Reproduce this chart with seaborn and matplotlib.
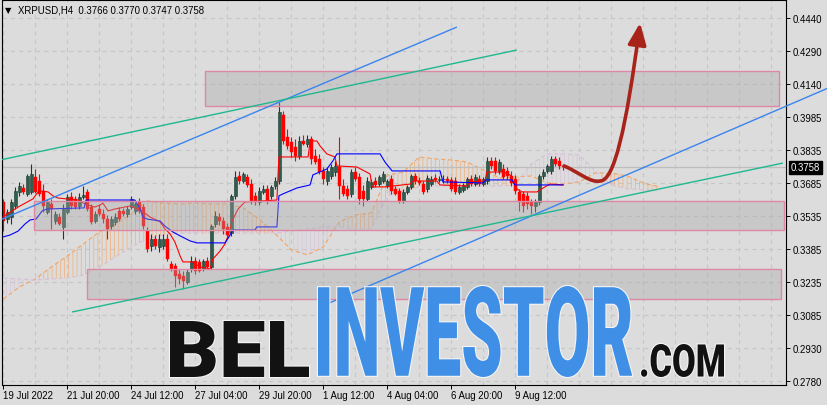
import numpy as np
import pandas as pd
import matplotlib
matplotlib.use("Agg")
import matplotlib.pyplot as plt
import seaborn as sns
from matplotlib.patches import Rectangle, FancyArrowPatch, PathPatch, ArrowStyle
from matplotlib.path import Path
from matplotlib.textpath import TextPath
from matplotlib.font_manager import FontProperties, fontManager
from matplotlib.transforms import Affine2D
import matplotlib.patheffects as pe
from matplotlib.colors import to_rgba

# ---------------- data (XRPUSD H4) ----------------
opens = [0.3600, 0.3522, 0.3531, 0.3582, 0.3646, 0.3664, 0.3637, 0.3646, 0.3714, 0.3696,
         0.3650, 0.3554, 0.3591, 0.3513, 0.3531, 0.3486, 0.3554, 0.3623, 0.3614, 0.3582,
         0.3623, 0.3646, 0.3577, 0.3513, 0.3568, 0.3545, 0.3522, 0.3490, 0.3509, 0.3559,
         0.3559, 0.3545, 0.3577, 0.3559, 0.3600, 0.3577, 0.3467, 0.3399, 0.3431, 0.3394,
         0.3399, 0.3431, 0.3316, 0.3307, 0.3271, 0.3262, 0.3234, 0.3294, 0.3330, 0.3326,
         0.3294, 0.3330, 0.3303, 0.3499, 0.3531, 0.3513, 0.3486, 0.3458, 0.3628, 0.3719,
         0.3696, 0.3714, 0.3682, 0.3628, 0.3600, 0.3646, 0.3660, 0.3628, 0.3673, 0.3696,
         0.3998, 0.3897, 0.3874, 0.3851, 0.3810, 0.3879, 0.3865, 0.3888, 0.3810, 0.3797,
         0.3742, 0.3696, 0.3719, 0.3737, 0.3760, 0.3673, 0.3660, 0.3637, 0.3737, 0.3714,
         0.3650, 0.3614, 0.3669, 0.3696, 0.3682, 0.3696, 0.3673, 0.3705, 0.3660, 0.3650,
         0.3605, 0.3646, 0.3669, 0.3719, 0.3696, 0.3682, 0.3660, 0.3682, 0.3710, 0.3701,
         0.3705, 0.3705, 0.3701, 0.3696, 0.3646, 0.3655, 0.3669, 0.3705, 0.3682, 0.3705,
         0.3682, 0.3696, 0.3788, 0.3788, 0.3742, 0.3751, 0.3742, 0.3719, 0.3705, 0.3646,
         0.3637, 0.3628, 0.3600, 0.3582, 0.3600, 0.3719, 0.3742, 0.3742, 0.3797, 0.3788,
         0.3766]
highs = [0.3614, 0.3568, 0.3614, 0.3669, 0.3692, 0.3682, 0.3728, 0.3774, 0.3751, 0.3728,
         0.3682, 0.3614, 0.3614, 0.3559, 0.3550, 0.3591, 0.3637, 0.3646, 0.3628, 0.3641,
         0.3673, 0.3660, 0.3591, 0.3559, 0.3591, 0.3568, 0.3541, 0.3536, 0.3550, 0.3577,
         0.3573, 0.3582, 0.3628, 0.3600, 0.3618, 0.3591, 0.3486, 0.3454, 0.3449, 0.3454,
         0.3454, 0.3454, 0.3330, 0.3321, 0.3294, 0.3285, 0.3294, 0.3353, 0.3349, 0.3339,
         0.3339, 0.3349, 0.3499, 0.3559, 0.3550, 0.3531, 0.3504, 0.3637, 0.3742, 0.3742,
         0.3737, 0.3728, 0.3705, 0.3646, 0.3669, 0.3678, 0.3678, 0.3678, 0.3714, 0.4057,
         0.4016, 0.3934, 0.3897, 0.3888, 0.3902, 0.3906, 0.3906, 0.3902, 0.3842, 0.3819,
         0.3760, 0.3760, 0.3774, 0.3788, 0.3897, 0.3705, 0.3678, 0.3751, 0.3760, 0.3733,
         0.3678, 0.3714, 0.3705, 0.3714, 0.3723, 0.3742, 0.3705, 0.3723, 0.3673, 0.3664,
         0.3660, 0.3678, 0.3728, 0.3733, 0.3714, 0.3696, 0.3723, 0.3719, 0.3728, 0.3719,
         0.3723, 0.3719, 0.3714, 0.3714, 0.3682, 0.3687, 0.3714, 0.3723, 0.3728, 0.3723,
         0.3714, 0.3806, 0.3806, 0.3806, 0.3797, 0.3774, 0.3760, 0.3742, 0.3723, 0.3660,
         0.3650, 0.3646, 0.3614, 0.3614, 0.3728, 0.3751, 0.3774, 0.3810, 0.3810, 0.3806,
         0.3770]
lows = [0.3467, 0.3504, 0.3499, 0.3568, 0.3628, 0.3637, 0.3628, 0.3637, 0.3641, 0.3628,
        0.3554, 0.3545, 0.3477, 0.3499, 0.3495, 0.3431, 0.3545, 0.3568, 0.3568, 0.3568,
        0.3614, 0.3559, 0.3499, 0.3504, 0.3536, 0.3504, 0.3431, 0.3477, 0.3495, 0.3513,
        0.3536, 0.3531, 0.3568, 0.3545, 0.3550, 0.3477, 0.3371, 0.3376, 0.3385, 0.3371,
        0.3385, 0.3330, 0.3285, 0.3211, 0.3225, 0.3202, 0.3225, 0.3280, 0.3271, 0.3280,
        0.3285, 0.3294, 0.3294, 0.3486, 0.3495, 0.3454, 0.3431, 0.3444, 0.3614, 0.3682,
        0.3687, 0.3669, 0.3591, 0.3586, 0.3586, 0.3637, 0.3591, 0.3614, 0.3660, 0.3682,
        0.3865, 0.3842, 0.3806, 0.3787, 0.3797, 0.3861, 0.3851, 0.3774, 0.3774, 0.3728,
        0.3682, 0.3678, 0.3705, 0.3719, 0.3614, 0.3628, 0.3614, 0.3623, 0.3696, 0.3591,
        0.3582, 0.3605, 0.3660, 0.3669, 0.3673, 0.3687, 0.3664, 0.3637, 0.3632, 0.3595,
        0.3595, 0.3637, 0.3660, 0.3682, 0.3678, 0.3637, 0.3646, 0.3673, 0.3692, 0.3692,
        0.3687, 0.3687, 0.3650, 0.3637, 0.3637, 0.3646, 0.3660, 0.3673, 0.3673, 0.3673,
        0.3673, 0.3682, 0.3751, 0.3728, 0.3728, 0.3705, 0.3705, 0.3673, 0.3637, 0.3559,
        0.3554, 0.3568, 0.3545, 0.3554, 0.3586, 0.3705, 0.3733, 0.3728, 0.3765, 0.3751,
        0.3747]
closes = [0.3513, 0.3554, 0.3600, 0.3650, 0.3673, 0.3646, 0.3719, 0.3728, 0.3646, 0.3637,
          0.3582, 0.3600, 0.3568, 0.3545, 0.3499, 0.3568, 0.3623, 0.3582, 0.3577, 0.3623,
          0.3632, 0.3568, 0.3509, 0.3545, 0.3545, 0.3522, 0.3477, 0.3522, 0.3531, 0.3522,
          0.3545, 0.3568, 0.3614, 0.3591, 0.3559, 0.3490, 0.3385, 0.3431, 0.3399, 0.3431,
          0.3431, 0.3339, 0.3294, 0.3262, 0.3248, 0.3239, 0.3280, 0.3330, 0.3285, 0.3285,
          0.3330, 0.3303, 0.3490, 0.3536, 0.3513, 0.3477, 0.3449, 0.3628, 0.3714, 0.3696,
          0.3728, 0.3678, 0.3605, 0.3600, 0.3650, 0.3660, 0.3605, 0.3669, 0.3696, 0.4012,
          0.3879, 0.3856, 0.3829, 0.3810, 0.3879, 0.3865, 0.3888, 0.3797, 0.3783, 0.3737,
          0.3705, 0.3742, 0.3760, 0.3765, 0.3673, 0.3637, 0.3628, 0.3737, 0.3705, 0.3614,
          0.3614, 0.3696, 0.3692, 0.3678, 0.3714, 0.3728, 0.3696, 0.3650, 0.3637, 0.3605,
          0.3646, 0.3669, 0.3719, 0.3696, 0.3687, 0.3646, 0.3710, 0.3705, 0.3701, 0.3705,
          0.3705, 0.3696, 0.3660, 0.3646, 0.3669, 0.3678, 0.3705, 0.3682, 0.3714, 0.3682,
          0.3705, 0.3788, 0.3765, 0.3742, 0.3783, 0.3714, 0.3719, 0.3687, 0.3650, 0.3600,
          0.3582, 0.3591, 0.3582, 0.3600, 0.3719, 0.3737, 0.3765, 0.3797, 0.3774, 0.3765,
          0.3758]

# Ichimoku lines (bar index, price)
tenkan_bar = [-0.1, 1.7, 4.2, 7.4, 8.7, 9.7, 11.2, 12.4, 13.7, 18.7, 20.4, 22.9, 24.2, 24.9,
              26.2, 27.9, 31.7, 34.7, 36.7, 39.2, 40.4, 41.7, 42.9, 44.2, 44.9, 47.2, 49.2,
              51.7, 52.4, 54.2, 55.4, 56.2, 57.2, 58.7, 60.4, 68.4, 68.9, 76.2, 76.7, 78.4,
              79.2, 80.9, 82.9, 83.4, 88.4, 91.7, 92.2, 95.4, 101.7, 102.4, 108.4, 109.2,
              115.9, 116.7, 120.4, 120.9, 124.9, 126.7, 127.4, 128.4, 129.7, 133.4, 135.4,
              136.7, 140.0]
tenkan_val = [0.3531, 0.3554, 0.3582, 0.3614, 0.3646, 0.3650, 0.3646, 0.3628, 0.3618, 0.3609,
              0.3591, 0.3577, 0.3586, 0.3595, 0.3559, 0.3568, 0.3582, 0.3559, 0.3531, 0.3509,
              0.3477, 0.3454, 0.3417, 0.3353, 0.3326, 0.3326, 0.3303, 0.3294, 0.3339, 0.3376,
              0.3408, 0.3445, 0.3513, 0.3568, 0.3600, 0.3609, 0.3806, 0.3806, 0.3879, 0.3879,
              0.3856, 0.3820, 0.3806, 0.3765, 0.3760, 0.3728, 0.3669, 0.3669, 0.3682, 0.3696,
              0.3696, 0.3678, 0.3673, 0.3692, 0.3696, 0.3737, 0.3737, 0.3724, 0.3696, 0.3660,
              0.3646, 0.3646, 0.3669, 0.3682, 0.3678]
kijun_bar = [-0.1, 1.7, 3.7, 5.4, 6.7, 8.2, 9.7, 10.9, 20.2, 20.7, 32.9, 34.2, 34.9, 35.9,
             39.2, 40.4, 42.4, 44.2, 46.7, 48.4, 55.4, 56.4, 57.4, 62.9, 63.4, 68.4, 68.9,
             69.9, 73.4, 76.7, 77.4, 80.9, 82.4, 83.4, 94.2, 95.4, 96.2, 97.2, 109.2, 109.9,
             119.9, 120.7, 127.2, 127.9, 140.0]
kijun_val = [0.3440, 0.3449, 0.3467, 0.3499, 0.3518, 0.3522, 0.3559, 0.3568, 0.3573, 0.3609,
             0.3609, 0.3568, 0.3531, 0.3522, 0.3513, 0.3490, 0.3463, 0.3445, 0.3422, 0.3413,
             0.3413, 0.3440, 0.3472, 0.3472, 0.3486, 0.3486, 0.3628, 0.3637, 0.3664, 0.3678,
             0.3724, 0.3751, 0.3788, 0.3820, 0.3820, 0.3783, 0.3765, 0.3742, 0.3742, 0.3692,
             0.3687, 0.3701, 0.3701, 0.3678, 0.3678]
cloud_bar = [0, 4, 8, 12, 16, 20, 24, 28, 32, 36, 40, 44, 48, 52, 56, 60, 64, 68, 72, 76, 80,
             84, 88, 92, 96, 100, 104, 108, 112, 116, 120, 124, 128, 132, 136, 140, 144, 148,
             152, 156, 160, 164]
span_a = [0.3156, 0.3211, 0.3248, 0.3303, 0.3353, 0.3408, 0.3463, 0.3499, 0.3545, 0.3605,
          0.3595, 0.3591, 0.3595, 0.3591, 0.3591, 0.3573, 0.3522, 0.3454, 0.3381, 0.3358,
          0.3394, 0.3509, 0.3541, 0.3550, 0.3723, 0.3737, 0.3806, 0.3797, 0.3792, 0.3783,
          0.3746, 0.3710, 0.3714, 0.3719, 0.3687, 0.3682, 0.3692, 0.3733, 0.3733, 0.3719,
          0.3687, 0.3669]
span_b = [0.3252, 0.3248, 0.3243, 0.3248, 0.3252, 0.3266, 0.3303, 0.3349, 0.3394, 0.3431,
          0.3449, 0.3458, 0.3458, 0.3458, 0.3458, 0.3458, 0.3458, 0.3458, 0.3467, 0.3477,
          0.3486, 0.3486, 0.3477, 0.3477, 0.3628, 0.3650, 0.3669, 0.3673, 0.3673, 0.3673,
          0.3673, 0.3673, 0.3678, 0.3774, 0.3820, 0.3820, 0.3815, 0.3742, 0.3678, 0.3660,
          0.3655, 0.3655]

# drawn objects (anchors in bar index / price)
trend_blue_1 = [(-0.8, 0.3518), (113.4, 0.4400)]
trend_green_1 = [(-0.8, 0.3792), (128.4, 0.4295)]
trend_blue_2 = [(79.7, 0.3124), (206.2, 0.4121)]
trend_green_2 = [(17.2, 0.3097), (194.9, 0.3778)]
zones = [(50.4, 193.9, 0.4039, 0.4199), (7.7, 195.2, 0.3470, 0.3605), (20.9, 194.4, 0.3156, 0.3294)]
arrow_pts = [(140.2, 0.3765), (144.2, 0.3733), (146.7, 0.3687), (149.2, 0.3696),
             (152.7, 0.3696), (155.7, 0.3934), (159.2, 0.4419)]

y_tick_labels = ["0.4440", "0.4290", "0.4140", "0.3985", "0.3835", "0.3685",
                 "0.3535", "0.3385", "0.3235", "0.3085", "0.2930", "0.2780"]
x_tick_labels = ["19 Jul 2022", "21 Jul 20:00", "24 Jul 12:00", "27 Jul 04:00", "29 Jul 20:00",
                 "1 Aug 12:00", "4 Aug 04:00", "6 Aug 20:00", "9 Aug 12:00"]
x_tick_bars = [0, 16, 32, 48, 64, 80, 96, 112, 128]
symbol = "XRPUSD,H4"
last_price = 0.3758

# ---------------- style ----------------
sns.set_theme(style="ticks")
names = {f.name for f in fontManager.ttflist}
if "Liberation Sans Narrow" in names:
    ui_font, ui_size = "Liberation Sans Narrow", 7.8
elif "Liberation Sans" in names:
    ui_font, ui_size = "Liberation Sans", 6.9
else:
    ui_font, ui_size = "DejaVu Sans", 6.3
plt.rcParams["font.family"] = [ui_font, "DejaVu Sans"]
plt.rcParams["lines.scale_dashes"] = False
plt.rcParams["hatch.linewidth"] = 0.55

BG = "#dcdcdc"
W, H, DPI = 828, 406, 100
fig = plt.figure(figsize=(W / DPI, H / DPI), dpi=DPI, facecolor=BG)
ax = fig.add_axes([2.5 / W, 20.5 / H, 783.5 / W, 384.5 / H])
ax.set_facecolor(BG)
ax.set_xlim(-0.2, 195.675)
ax.set_ylim(0.27654, 0.45237)

df = pd.DataFrame({"bar": np.arange(len(opens)), "open": opens, "high": highs,
                   "low": lows, "close": closes})
df["bull"] = df["close"] >= df["open"]

# grid
for b in range(0, 196, 8):
    ax.axvline(b, color="#c6c6c6", lw=0.8, ls=(0, (3, 3)), zorder=0.5)
y_ticks = np.linspace(0.4440, 0.2780, len(y_tick_labels))
for yv in y_ticks:
    ax.axhline(yv, color="#c6c6c6", lw=0.8, ls=(0, (3, 3)), zorder=0.5)

# Ichimoku cloud (dotted vertical hatch)
cb = np.array(cloud_bar, dtype=float)
sa = np.array(span_a)
sb = np.array(span_b)
for cond, col in [(sa >= sb, "#f4a460"), (sa < sb, "#d8bfd8")]:
    rgba = to_rgba(col, 0.75)
    plt.rcParams["hatch.color"] = rgba
    ax.fill_between(cb, sa, sb, where=cond, interpolate=True, facecolor="none",
                    edgecolor=rgba, linewidth=0, hatch="||||", zorder=1)
ax.plot(cb, sa, color="#f4a460", lw=0.8, ls=(0, (3, 2)), zorder=1.1)
ax.plot(cb, sb, color="#d8bfd8", lw=0.8, ls=(0, (3, 2)), zorder=1.1)

# bid line
ax.axhline(last_price, color="#bdbdbd", lw=0.9, zorder=1.2)

# candles
bull_c, bull_e, bear_c = "#2f5d4d", "#1d3a30", "#ff0000"
wick_cols = [bull_e if b else bear_c for b in df["bull"]]
ax.vlines(df["bar"], df["low"], df["high"], colors=wick_cols, lw=0.8, zorder=2)
body_lo = np.minimum(df["open"], df["close"])
body_h = np.maximum(np.abs(df["close"] - df["open"]), 0.00006)
ax.bar(df["bar"][df["bull"]], body_h[df["bull"]], bottom=body_lo[df["bull"]], width=0.72,
       color=bull_c, edgecolor=bull_e, linewidth=0.4, zorder=2.1)
ax.bar(df["bar"][~df["bull"]], body_h[~df["bull"]], bottom=body_lo[~df["bull"]], width=0.72,
       color=bear_c, edgecolor=bear_c, linewidth=0.3, zorder=2.1)

# tenkan / kijun
sns.lineplot(x=tenkan_bar, y=tenkan_val, ax=ax, color="#ff0000", lw=0.8, sort=False,
             estimator=None, zorder=3)
sns.lineplot(x=kijun_bar, y=kijun_val, ax=ax, color="#0000ff", lw=0.8, sort=False,
             estimator=None, zorder=3.1)

# zones
for (b0, b1, p0, p1) in zones:
    ax.add_patch(Rectangle((b0, p0), b1 - b0, p1 - p0, facecolor="#a8a8a8", alpha=0.38,
                           edgecolor="none", zorder=4))
    ax.add_patch(Rectangle((b0, p0), b1 - b0, p1 - p0, facecolor="none",
                           edgecolor="#dd89a5", lw=1.0, zorder=4.1))

# trend lines
for pts, col, clip in [(trend_blue_1, "#3a84ee", True), (trend_green_1, "#1fb88f", True),
                       (trend_blue_2, "#3a84ee", False), (trend_green_2, "#1fb88f", True)]:
    (xa, ya), (xb, yb) = pts
    ax.plot([xa, xb], [ya, yb], color=col, lw=1.0, zorder=5, clip_on=clip,
            solid_capstyle="butt")

# watermark
wm_fp = FontProperties(family=["Roboto", "DejaVu Sans"], weight="black")
def place_word(word, box, color):
    tp = TextPath((0, 0), word, size=100, prop=wm_fp)
    bb = tp.get_extents()
    x0, y0, x1, y1 = box
    tr = (Affine2D().translate(-bb.x0, -bb.y0)
          .scale((x1 - x0) / bb.width, (y1 - y0) / bb.height)
          .translate(x0, H - y1))
    path = tr.transform_path(tp)
    patch = PathPatch(path, facecolor=color, edgecolor="none",
                      transform=Affine2D().scale(1 / DPI) + fig.dpi_scale_trans,
                      zorder=6, clip_on=False)
    patch.set_path_effects([pe.Stroke(linewidth=1.6, foreground="#f4f4f4"), pe.Normal()])
    ax.add_patch(patch)

place_word("BEL", (170, 322, 309, 378), "#121212")
place_word("INVESTOR", (318, 287, 632, 378), "#3f8fe6")
place_word(".COM", (641, 345, 724, 378), "#121212")

# arrow
codes = [Path.MOVETO] + [Path.CURVE4] * 6
arr = FancyArrowPatch(path=Path(arrow_pts, codes),
                      arrowstyle=ArrowStyle("-|>", head_length=1.3, head_width=0.55),
                      mutation_scale=10, color="#a8241a", lw=2.6, zorder=7)
ax.add_patch(arr)

# axes / ticks
ax.yaxis.tick_right()
ax.set_yticks(y_ticks)
ax.set_yticklabels(y_tick_labels)
ax.set_xticks(x_tick_bars)
ax.set_xticklabels(x_tick_labels, ha="left")
ax.tick_params(axis="both", length=3, width=0.7, color="black", labelsize=ui_size,
               labelcolor="black", direction="out")
ax.tick_params(axis="y", pad=1.5)
ax.tick_params(axis="x", pad=1.0)
for s in ax.spines.values():
    s.set_color("black")
    s.set_linewidth(0.8)
    s.set_visible(True)
ax.set_xlabel("")
ax.set_ylabel("")
if ax.get_legend():
    ax.get_legend().remove()

# current price tag
ax.annotate(f"{last_price:.4f}", xy=(1, last_price), xycoords=("axes fraction", "data"),
            xytext=(5, 0), textcoords="offset pixels", ha="left", va="center",
            color="white", fontsize=ui_size, annotation_clip=False,
            bbox=dict(boxstyle="square,pad=0.18", fc="black", ec="black"))

# header
fig.text(5 / W, 1 - 10.7 / H, "\u25bc", fontsize=6, family="DejaVu Sans",
         va="center", ha="left", color="black")
fig.text(18 / W, 1 - 10.7 / H,
         f"{symbol}  {opens[-1]:.4f} {highs[-1]:.4f} {lows[-1]:.4f} {closes[-1]:.4f}",
         fontsize=ui_size, va="center", ha="left", color="black")

fig.savefig("out.png", dpi=DPI, facecolor=BG)
